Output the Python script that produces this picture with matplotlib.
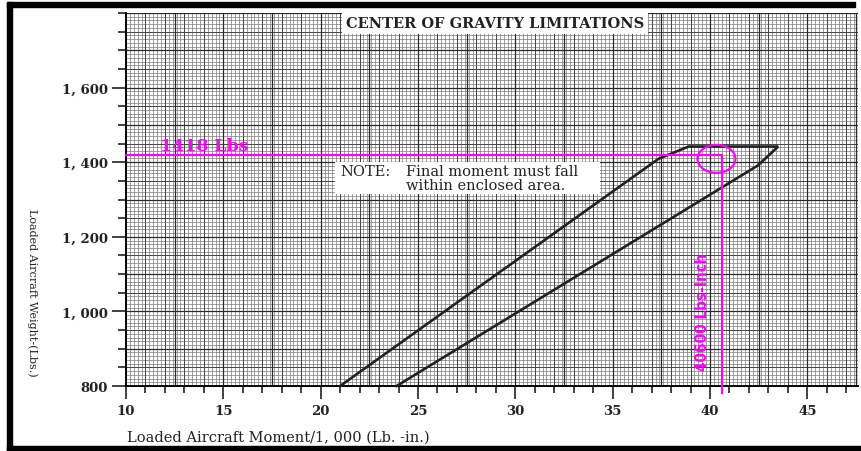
import numpy as np
import matplotlib
matplotlib.use("Agg")
import matplotlib.pyplot as plt
from matplotlib.patches import Ellipse, Rectangle
from matplotlib.ticker import MultipleLocator, FixedLocator

# CG envelope (moment/1000, weight)
env_moment = [21.0, 37.35, 38.9, 43.5, 42.45, 23.9]
env_weight = [800, 1409, 1442, 1442, 1391, 800]

# loaded aircraft point
load_weight = 1418
load_moment = 40.6
circle_moment = [40.33]
circle_weight = [1409]

y_ticks = [800, 1000, 1200, 1400, 1600]
y_labels = ["800", "1, 000", "1, 200", "1, 400", "1, 600"]
x_ticks = [10, 15, 20, 25, 30, 35, 40, 45]

serif = ["DejaVu Serif"]

fig = plt.figure(figsize=(8.61, 4.52), dpi=100)
ax = fig.add_axes([0.1463, 0.1438, 0.8502, 0.8252])
ax.set_xlim(10, 47.6)
ax.set_ylim(800, 1800)

# graph paper
ax.vlines(np.arange(10, 47.7, 0.2), 800, 1800, color="#7a7a7a", lw=0.5, zorder=0)
ax.hlines(np.arange(800, 1801, 10), 10, 47.6, color="#7a7a7a", lw=0.5, zorder=0)
ax.vlines(np.arange(10, 47.7, 1), 800, 1800, color="#444444", lw=0.7, zorder=0)
ax.hlines(np.arange(800, 1801, 50), 10, 47.6, color="#444444", lw=0.7, zorder=0)
ax.vlines(np.arange(12.5, 47.7, 2.5), 800, 1800, color="#2a2a2a", lw=0.9, zorder=0)
ax.hlines(np.arange(900, 1801, 100), 10, 47.6, color="#2a2a2a", lw=0.9, zorder=0)

for s in ["top", "right"]:
    ax.spines[s].set_visible(False)
ax.spines["left"].set_linewidth(1.4)
ax.spines["bottom"].set_linewidth(1.4)

# ticks
ax.yaxis.set_major_locator(FixedLocator(y_ticks))
ax.set_yticklabels(y_labels, family=serif, fontsize=9.5, fontweight="bold", color="#222222")
ax.yaxis.set_minor_locator(MultipleLocator(50))
ax.tick_params(axis="y", which="major", length=10, width=1.3, pad=3, color="#333333")
ax.tick_params(axis="y", which="minor", length=6, width=1.3, color="#333333")
ax.xaxis.set_major_locator(FixedLocator(x_ticks))
ax.set_xticklabels([str(t) for t in x_ticks], family=serif, fontsize=9.5, fontweight="bold", color="#222222")
ax.xaxis.set_minor_locator(MultipleLocator(1))
ax.tick_params(axis="x", which="major", length=9, width=1.3, pad=4, color="#333333")
ax.tick_params(axis="x", which="minor", length=5, width=1.3, color="#333333")

# envelope
ax.plot(env_moment, env_weight, color="#222222", lw=1.9, solid_joinstyle="miter", zorder=3, clip_on=False)

# loaded point markings
ax.plot([10, load_moment, load_moment], [load_weight, load_weight, 780],
        color="#ff00ff", lw=1.6, zorder=4, clip_on=False)
ax.add_patch(Ellipse((circle_moment[0], circle_weight[0]), 1.95, 75,
                     fill=False, edgecolor="#ff00ff", lw=1.6, zorder=4))
ax.text(11.75, load_weight + 4, "1418 Lbs", family=serif, fontsize=12.5, fontweight="bold",
        color="#ff00ff", ha="left", va="bottom", zorder=5)
ax.text(39.6, 1000, "40600 Lbs-Inch", family="DejaVu Sans", fontstretch="condensed",
        fontsize=11, fontweight="bold", color="#ff00ff", rotation=90,
        ha="center", va="center", zorder=5)

# title and note
ax.text(28.95, 1774, "CENTER OF GRAVITY LIMITATIONS", family=serif, fontsize=10.5, fontweight="bold",
        color="#222222", ha="center", va="center", zorder=5,
        bbox=dict(facecolor="white", edgecolor="none", pad=3))
ax.add_patch(Rectangle((0.2855, 0.515), 0.362, 0.0858, transform=ax.transAxes,
                       facecolor="white", edgecolor="none", zorder=4.5))
ax.text(21.0, 1377, "NOTE:", family=serif, fontsize=10.5, color="#222222",
        ha="left", va="center", zorder=5)
ax.text(24.4, 1358, "Final moment must fall\nwithin enclosed area.", family=serif,
        fontsize=10.5, color="#222222", ha="left", va="center", linespacing=1.0, zorder=5)

fig.text(0.148, 0.031, "Loaded Aircraft Moment/1, 000 (Lb. -in.)", family=serif, fontsize=10.5,
         color="#222222", ha="left", va="center")
fig.text(0.038, 0.352, "Loaded Aircraft Weight-(Lbs.)", family=serif, fontsize=8,
         color="#222222", rotation=270, ha="center", va="center")

# scan frame
fig.patches.append(Rectangle((0.008, 0.0), 0.006, 0.993, transform=fig.transFigure, color="black"))
fig.patches.append(Rectangle((0.008, 0.983), 0.985, 0.010, transform=fig.transFigure, color="black"))
fig.patches.append(Rectangle((0.008, 0.0), 0.992, 0.011, transform=fig.transFigure, color="black"))

fig.savefig("out.png", dpi=100)
